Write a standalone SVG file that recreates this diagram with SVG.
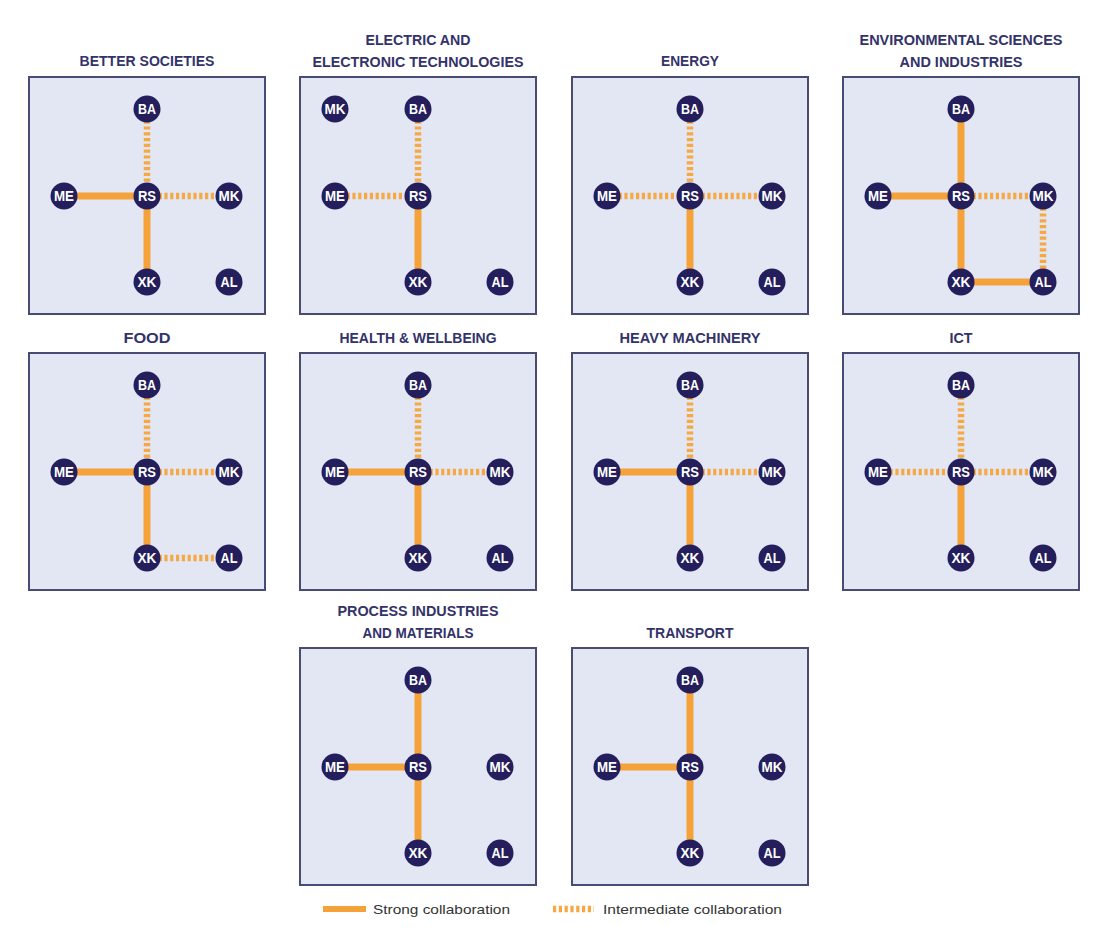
<svg xmlns="http://www.w3.org/2000/svg" width="1103" height="932" viewBox="0 0 1103 932">
<style>
.box{fill:#e3e7f3;stroke:#4a4b72;stroke-width:2}
.title{font-family:"Liberation Sans",Arial,sans-serif;font-weight:bold;font-size:14.5px;fill:#33336a;text-anchor:middle}
.node circle{fill:#241f5c}
.node text{font-family:"Liberation Sans",Arial,sans-serif;font-weight:bold;font-size:14px;fill:#ffffff;text-anchor:middle}
.dot{fill:#ffffff}
.strong{stroke:#f5a23a;stroke-width:7;fill:none}
.inter{stroke:#f5a843;stroke-width:6.5;fill:none;stroke-dasharray:3.2 2.6}
.legend{font-family:"Liberation Sans",Arial,sans-serif;font-size:13.5px;fill:#333333}
</style>
<defs>
<g id="nBA" class="node"><circle r="13.5"/><text y="5" textLength="18" lengthAdjust="spacingAndGlyphs">BA</text></g>
<g id="nME" class="node"><circle r="13.5"/><text y="5" textLength="20" lengthAdjust="spacingAndGlyphs">ME</text></g>
<g id="nRS" class="node"><circle r="13.5"/><text y="5" textLength="18" lengthAdjust="spacingAndGlyphs">RS</text></g>
<g id="nMK" class="node"><circle r="13.5"/><text y="5" textLength="21" lengthAdjust="spacingAndGlyphs">MK</text></g>
<g id="nXK" class="node"><circle r="13.5"/><text y="5" textLength="19" lengthAdjust="spacingAndGlyphs">XK</text><circle class="dot" cx="6.5" cy="-8.5" r="1.6"/></g>
<g id="nAL" class="node"><circle r="13.5"/><text y="5" textLength="17" lengthAdjust="spacingAndGlyphs">AL</text></g>
</defs>
<rect width="1103" height="932" fill="#ffffff"/>

<!-- Panel 1: Better Societies -->
<g id="panel-better-societies" transform="translate(29,77)">
<rect class="box" x="0" y="0" width="236" height="237"/>
<text class="title" x="118" y="-11" textLength="135" lengthAdjust="spacingAndGlyphs">BETTER SOCIETIES</text>
<g id="p1-connectors">
<line class="inter" x1="118" y1="32" x2="118" y2="119"/>
<line class="strong" x1="35" y1="119" x2="118" y2="119"/>
<line class="inter" x1="118" y1="119" x2="200" y2="119"/>
<line class="strong" x1="118" y1="119" x2="118" y2="205"/>
</g>
<g id="p1-BA"><use href="#nBA" x="118" y="32"/></g>
<g id="p1-ME"><use href="#nME" x="35" y="119"/></g>
<g id="p1-RS"><use href="#nRS" x="118" y="119"/></g>
<g id="p1-MK"><use href="#nMK" x="200" y="119"/></g>
<g id="p1-XK"><use href="#nXK" x="118" y="205"/></g>
<g id="p1-AL"><use href="#nAL" x="200" y="205"/></g>
</g>

<!-- Panel 2: Electric and Electronic Technologies -->
<g id="panel-electric" transform="translate(300,77)">
<rect class="box" x="0" y="0" width="236" height="237"/>
<text class="title" x="118" y="-32" textLength="105" lengthAdjust="spacingAndGlyphs">ELECTRIC AND</text>
<text class="title" x="118" y="-10" textLength="211" lengthAdjust="spacingAndGlyphs">ELECTRONIC TECHNOLOGIES</text>
<g id="p2-connectors">
<line class="inter" x1="118" y1="32" x2="118" y2="119"/>
<line class="inter" x1="35" y1="119" x2="118" y2="119"/>
<line class="strong" x1="118" y1="119" x2="118" y2="205"/>
</g>
<g id="p2-MK"><use href="#nMK" x="35" y="32"/></g>
<g id="p2-BA"><use href="#nBA" x="118" y="32"/></g>
<g id="p2-ME"><use href="#nME" x="35" y="119"/></g>
<g id="p2-RS"><use href="#nRS" x="118" y="119"/></g>
<g id="p2-XK"><use href="#nXK" x="118" y="205"/></g>
<g id="p2-AL"><use href="#nAL" x="200" y="205"/></g>
</g>

<!-- Panel 3: Energy -->
<g id="panel-energy" transform="translate(572,77)">
<rect class="box" x="0" y="0" width="236" height="237"/>
<text class="title" x="118" y="-11" textLength="58" lengthAdjust="spacingAndGlyphs">ENERGY</text>
<g id="p3-connectors">
<line class="inter" x1="118" y1="32" x2="118" y2="119"/>
<line class="inter" x1="35" y1="119" x2="118" y2="119"/>
<line class="inter" x1="118" y1="119" x2="200" y2="119"/>
<line class="strong" x1="118" y1="119" x2="118" y2="205"/>
</g>
<g id="p3-BA"><use href="#nBA" x="118" y="32"/></g>
<g id="p3-ME"><use href="#nME" x="35" y="119"/></g>
<g id="p3-RS"><use href="#nRS" x="118" y="119"/></g>
<g id="p3-MK"><use href="#nMK" x="200" y="119"/></g>
<g id="p3-XK"><use href="#nXK" x="118" y="205"/></g>
<g id="p3-AL"><use href="#nAL" x="200" y="205"/></g>
</g>

<!-- Panel 4: Environmental Sciences and Industries -->
<g id="panel-environmental" transform="translate(843,77)">
<rect class="box" x="0" y="0" width="236" height="237"/>
<text class="title" x="118" y="-32" textLength="203" lengthAdjust="spacingAndGlyphs">ENVIRONMENTAL SCIENCES</text>
<text class="title" x="118" y="-10" textLength="123" lengthAdjust="spacingAndGlyphs">AND INDUSTRIES</text>
<g id="p4-connectors">
<line class="strong" x1="118" y1="32" x2="118" y2="119"/>
<line class="strong" x1="35" y1="119" x2="118" y2="119"/>
<line class="inter" x1="118" y1="119" x2="200" y2="119"/>
<line class="strong" x1="118" y1="119" x2="118" y2="205"/>
<line class="inter" x1="200" y1="119" x2="200" y2="205"/>
<line class="strong" x1="118" y1="205" x2="200" y2="205"/>
</g>
<g id="p4-BA"><use href="#nBA" x="118" y="32"/></g>
<g id="p4-ME"><use href="#nME" x="35" y="119"/></g>
<g id="p4-RS"><use href="#nRS" x="118" y="119"/></g>
<g id="p4-MK"><use href="#nMK" x="200" y="119"/></g>
<g id="p4-XK"><use href="#nXK" x="118" y="205"/></g>
<g id="p4-AL"><use href="#nAL" x="200" y="205"/></g>
</g>

<!-- Panel 5: Food -->
<g id="panel-food" transform="translate(29,353)">
<rect class="box" x="0" y="0" width="236" height="237"/>
<text class="title" x="118" y="-10" textLength="47" lengthAdjust="spacingAndGlyphs">FOOD</text>
<g id="p5-connectors">
<line class="inter" x1="118" y1="32" x2="118" y2="119"/>
<line class="strong" x1="35" y1="119" x2="118" y2="119"/>
<line class="inter" x1="118" y1="119" x2="200" y2="119"/>
<line class="strong" x1="118" y1="119" x2="118" y2="205"/>
<line class="inter" x1="118" y1="205" x2="200" y2="205"/>
</g>
<g id="p5-BA"><use href="#nBA" x="118" y="32"/></g>
<g id="p5-ME"><use href="#nME" x="35" y="119"/></g>
<g id="p5-RS"><use href="#nRS" x="118" y="119"/></g>
<g id="p5-MK"><use href="#nMK" x="200" y="119"/></g>
<g id="p5-XK"><use href="#nXK" x="118" y="205"/></g>
<g id="p5-AL"><use href="#nAL" x="200" y="205"/></g>
</g>

<!-- Panel 6: Health & Wellbeing -->
<g id="panel-health" transform="translate(300,353)">
<rect class="box" x="0" y="0" width="236" height="237"/>
<text class="title" x="118" y="-10" textLength="157" lengthAdjust="spacingAndGlyphs">HEALTH &amp; WELLBEING</text>
<g id="p6-connectors">
<line class="inter" x1="118" y1="32" x2="118" y2="119"/>
<line class="strong" x1="35" y1="119" x2="118" y2="119"/>
<line class="inter" x1="118" y1="119" x2="200" y2="119"/>
<line class="strong" x1="118" y1="119" x2="118" y2="205"/>
</g>
<g id="p6-BA"><use href="#nBA" x="118" y="32"/></g>
<g id="p6-ME"><use href="#nME" x="35" y="119"/></g>
<g id="p6-RS"><use href="#nRS" x="118" y="119"/></g>
<g id="p6-MK"><use href="#nMK" x="200" y="119"/></g>
<g id="p6-XK"><use href="#nXK" x="118" y="205"/></g>
<g id="p6-AL"><use href="#nAL" x="200" y="205"/></g>
</g>

<!-- Panel 7: Heavy Machinery -->
<g id="panel-heavy-machinery" transform="translate(572,353)">
<rect class="box" x="0" y="0" width="236" height="237"/>
<text class="title" x="118" y="-10" textLength="141" lengthAdjust="spacingAndGlyphs">HEAVY MACHINERY</text>
<g id="p7-connectors">
<line class="inter" x1="118" y1="32" x2="118" y2="119"/>
<line class="strong" x1="35" y1="119" x2="118" y2="119"/>
<line class="inter" x1="118" y1="119" x2="200" y2="119"/>
<line class="strong" x1="118" y1="119" x2="118" y2="205"/>
</g>
<g id="p7-BA"><use href="#nBA" x="118" y="32"/></g>
<g id="p7-ME"><use href="#nME" x="35" y="119"/></g>
<g id="p7-RS"><use href="#nRS" x="118" y="119"/></g>
<g id="p7-MK"><use href="#nMK" x="200" y="119"/></g>
<g id="p7-XK"><use href="#nXK" x="118" y="205"/></g>
<g id="p7-AL"><use href="#nAL" x="200" y="205"/></g>
</g>

<!-- Panel 8: ICT -->
<g id="panel-ict" transform="translate(843,353)">
<rect class="box" x="0" y="0" width="236" height="237"/>
<text class="title" x="118" y="-10" textLength="23" lengthAdjust="spacingAndGlyphs">ICT</text>
<g id="p8-connectors">
<line class="inter" x1="118" y1="32" x2="118" y2="119"/>
<line class="inter" x1="35" y1="119" x2="118" y2="119"/>
<line class="inter" x1="118" y1="119" x2="200" y2="119"/>
<line class="strong" x1="118" y1="119" x2="118" y2="205"/>
</g>
<g id="p8-BA"><use href="#nBA" x="118" y="32"/></g>
<g id="p8-ME"><use href="#nME" x="35" y="119"/></g>
<g id="p8-RS"><use href="#nRS" x="118" y="119"/></g>
<g id="p8-MK"><use href="#nMK" x="200" y="119"/></g>
<g id="p8-XK"><use href="#nXK" x="118" y="205"/></g>
<g id="p8-AL"><use href="#nAL" x="200" y="205"/></g>
</g>

<!-- Panel 9: Process Industries and Materials -->
<g id="panel-process" transform="translate(300,648)">
<rect class="box" x="0" y="0" width="236" height="237"/>
<text class="title" x="118" y="-32" textLength="161" lengthAdjust="spacingAndGlyphs">PROCESS INDUSTRIES</text>
<text class="title" x="118" y="-10" textLength="111" lengthAdjust="spacingAndGlyphs">AND MATERIALS</text>
<g id="p9-connectors">
<line class="strong" x1="118" y1="32" x2="118" y2="119"/>
<line class="strong" x1="35" y1="119" x2="118" y2="119"/>
<line class="strong" x1="118" y1="119" x2="118" y2="205"/>
</g>
<g id="p9-BA"><use href="#nBA" x="118" y="32"/></g>
<g id="p9-ME"><use href="#nME" x="35" y="119"/></g>
<g id="p9-RS"><use href="#nRS" x="118" y="119"/></g>
<g id="p9-MK"><use href="#nMK" x="200" y="119"/></g>
<g id="p9-XK"><use href="#nXK" x="118" y="205"/></g>
<g id="p9-AL"><use href="#nAL" x="200" y="205"/></g>
</g>

<!-- Panel 10: Transport -->
<g id="panel-transport" transform="translate(572,648)">
<rect class="box" x="0" y="0" width="236" height="237"/>
<text class="title" x="118" y="-10" textLength="87" lengthAdjust="spacingAndGlyphs">TRANSPORT</text>
<g id="p10-connectors">
<line class="strong" x1="118" y1="32" x2="118" y2="119"/>
<line class="strong" x1="35" y1="119" x2="118" y2="119"/>
<line class="strong" x1="118" y1="119" x2="118" y2="205"/>
</g>
<g id="p10-BA"><use href="#nBA" x="118" y="32"/></g>
<g id="p10-ME"><use href="#nME" x="35" y="119"/></g>
<g id="p10-RS"><use href="#nRS" x="118" y="119"/></g>
<g id="p10-MK"><use href="#nMK" x="200" y="119"/></g>
<g id="p10-XK"><use href="#nXK" x="118" y="205"/></g>
<g id="p10-AL"><use href="#nAL" x="200" y="205"/></g>
</g>

<!-- Legend -->
<g id="legend">
<line class="strong" x1="323" y1="909" x2="366" y2="909" style="stroke-width:6"/>
<text class="legend" x="373" y="914" textLength="137" lengthAdjust="spacingAndGlyphs">Strong collaboration</text>
<line class="inter" x1="553" y1="909" x2="594" y2="909"/>
<text class="legend" x="603" y="914" textLength="179" lengthAdjust="spacingAndGlyphs">Intermediate collaboration</text>
</g>
</svg>
